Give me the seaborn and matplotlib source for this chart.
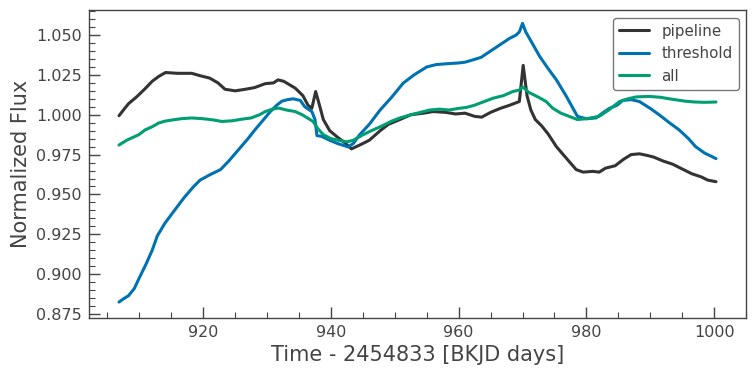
import numpy as np
import pandas as pd
import matplotlib
matplotlib.use("Agg")
import matplotlib.pyplot as plt
from matplotlib.ticker import MultipleLocator, FormatStrFormatter
import seaborn as sns

# light curves (time in BKJD days, normalized flux)
pipeline_t = [906.8, 907.5, 908.3, 909.5, 910.8, 912.0, 913.0, 914.1, 916.0, 918.2,
              919.5, 921.0, 922.3, 923.4, 925.0, 926.6, 928.0, 929.7, 931.0, 931.7,
              932.6, 934.4, 935.6, 936.4, 937.0, 937.6, 938.2, 938.8, 939.8, 941.0,
              942.3, 943.2, 944.5, 946.0, 947.7, 949.0, 950.8, 952.5, 954.5, 956.0,
              958.0, 959.5, 961.0, 962.5, 963.6, 965.0, 966.5, 968.0, 969.5, 970.1,
              970.7, 971.3, 972.0, 973.0, 974.0, 975.3, 976.8, 978.4, 979.5, 981.0,
              982.0, 983.0, 984.5, 985.8, 987.0, 988.3, 989.5, 990.5, 992.0, 993.5,
              995.0, 996.5, 998.0, 999.0, 1000.3]
pipeline_f = [0.9994, 1.003, 1.007, 1.011, 1.016, 1.021, 1.024, 1.0265, 1.026, 1.026,
              1.0245, 1.023, 1.020, 1.016, 1.015, 1.016, 1.017, 1.0195, 1.020, 1.0219,
              1.021, 1.0167, 1.012, 1.006, 1.004, 1.0146, 1.006, 0.997, 0.990, 0.986,
              0.982, 0.9786, 0.981, 0.984, 0.990, 0.994, 0.997, 1.000, 1.001, 1.002,
              1.0015, 1.0005, 1.001, 0.999, 0.9985, 1.0015, 1.004, 1.006, 1.0083, 1.031,
              1.012, 1.003, 0.997, 0.993, 0.988, 0.980, 0.973, 0.9656, 0.964, 0.9645,
              0.964, 0.9665, 0.968, 0.972, 0.975, 0.9755, 0.9745, 0.9735, 0.971, 0.969,
              0.966, 0.963, 0.961, 0.959, 0.958]

threshold_t = [906.8, 907.5, 908.3, 909.2, 909.9, 911.0, 912.0, 912.8, 914.0, 915.6,
               917.0, 918.5, 919.5, 921.1, 922.7, 924.0, 925.5, 927.0, 928.1, 929.2,
               930.5, 931.5, 932.3, 933.2, 934.1, 935.2, 935.9, 937.0, 937.5, 937.8,
               938.5, 939.8, 941.0, 942.7, 943.5, 944.5, 946.0, 947.7, 949.5, 951.3,
               953.0, 955.0, 956.5, 958.1, 960.0, 961.0, 962.2, 963.5, 965.0, 966.5,
               968.0, 969.0, 969.5, 970.0, 970.5, 971.5, 972.7, 974.0, 975.3, 976.8,
               978.6, 980.0, 981.5, 982.5, 983.6, 984.8, 985.7, 987.0, 988.3, 990.0,
               991.4, 993.0, 994.5, 996.0, 997.1, 998.5, 1000.3]
threshold_f = [0.8825, 0.8845, 0.8865, 0.891, 0.897, 0.906, 0.915, 0.924, 0.932, 0.9406,
               0.948, 0.955, 0.959, 0.9625, 0.9656, 0.971, 0.978, 0.985, 0.9906, 0.9958,
               1.002, 1.006, 1.0085, 1.0095, 1.010, 1.009, 1.005, 1.002, 0.997, 0.9869,
               0.9865, 0.984, 0.982, 0.9798, 0.982, 0.9875, 0.994, 1.003, 1.011, 1.0198,
               1.025, 1.030, 1.0315, 1.032, 1.0325, 1.033, 1.0344, 1.036, 1.040, 1.044,
               1.048, 1.050, 1.052, 1.0573, 1.052, 1.045, 1.0365, 1.029, 1.0219, 1.012,
               0.999, 0.9975, 0.998, 1.001, 1.004, 1.006, 1.009, 1.0095, 1.0083, 1.004,
               1.000, 0.995, 0.9906, 0.985, 0.980, 0.976, 0.9725]

all_t = [906.8, 908.0, 909.9, 910.9, 912.0, 913.0, 914.0, 915.1, 916.5, 918.2,
         920.0, 921.5, 922.9, 924.5, 926.0, 927.5, 928.8, 929.7, 930.8, 931.8,
         933.0, 934.4, 935.5, 936.3, 937.2, 938.0, 938.8, 940.0, 941.2, 942.5,
         943.5, 944.8, 946.1, 948.0, 949.5, 950.8, 952.5, 954.0, 955.5, 957.0,
         958.5, 960.0, 961.2, 962.5, 963.8, 965.4, 967.0, 968.5, 969.5, 970.0,
         971.0, 972.5, 973.7, 974.7, 976.0, 977.3, 978.6, 980.0, 982.0, 983.5,
         985.2, 986.5, 987.8, 989.8, 991.5, 993.0, 994.0, 995.5, 997.0, 998.5, 1000.3]
all_f = [0.981, 0.984, 0.9875, 0.9905, 0.9925, 0.9948, 0.996, 0.9967, 0.9975, 0.998,
         0.9975, 0.9968, 0.9958, 0.9962, 0.9972, 0.998, 1.000, 1.002, 1.0035, 1.0042,
         1.003, 1.002, 1.000, 0.998, 0.9958, 0.991, 0.9875, 0.985, 0.984, 0.983,
         0.984, 0.987, 0.9896, 0.993, 0.996, 0.998, 1.000, 1.0015, 1.003, 1.0035,
         1.003, 1.004, 1.0046, 1.006, 1.008, 1.0104, 1.012, 1.0146, 1.0155, 1.0175,
         1.014, 1.011, 1.0083, 1.0042, 1.001, 0.999, 0.997, 0.9975, 0.999, 1.003,
         1.0083, 1.010, 1.0112, 1.0115, 1.011, 1.010, 1.0094, 1.0085, 1.008, 1.0078, 1.008]

labels = ["pipeline", "threshold", "all"]
colors = ["#333333", "#0072B2", "#009E73"]

df = pd.concat([
    pd.DataFrame({"time": pipeline_t, "flux": pipeline_f, "mask": "pipeline"}),
    pd.DataFrame({"time": threshold_t, "flux": threshold_f, "mask": "threshold"}),
    pd.DataFrame({"time": all_t, "flux": all_f, "mask": "all"}),
], ignore_index=True)

sns.set_style("white")
plt.rcParams["font.family"] = ["DejaVu Sans"]
grey = "#444444"

fig = plt.figure(figsize=(7.56, 3.76), dpi=100)
ax = fig.add_axes([0.1177, 0.1543, 0.8691, 0.819])
sns.lineplot(data=df, x="time", y="flux", hue="mask", hue_order=labels,
             palette=dict(zip(labels, colors)), sort=False, estimator=None,
             linewidth=2.2, ax=ax)

ax.set_xlim(902.1, 1005.0)
ax.set_ylim(0.8725, 1.0657)
ax.xaxis.set_major_locator(MultipleLocator(20))
ax.xaxis.set_minor_locator(MultipleLocator(5))
ax.yaxis.set_major_locator(MultipleLocator(0.025))
ax.yaxis.set_minor_locator(MultipleLocator(0.005))
ax.yaxis.set_major_formatter(FormatStrFormatter("%.3f"))
ax.tick_params(which="both", bottom=True, left=True, top=False, right=False)
ax.tick_params(which="major", direction="in", length=8, width=1, color=grey,
               labelcolor=grey, labelsize=11.5, pad=5)
ax.tick_params(which="minor", direction="in", length=4.5, width=0.8, color=grey)
for sp in ax.spines.values():
    sp.set_color(grey)
    sp.set_linewidth(1)

ax.set_xlabel("Time - 2454833 [BKJD days]", fontsize=15, color=grey, labelpad=4)
ax.set_ylabel("Normalized Flux", fontsize=15, color=grey, labelpad=4)

leg = ax.legend(loc="upper right", fontsize=10.8, frameon=True, fancybox=True,
                handlelength=2.0)
leg.get_frame().set_edgecolor("#555555")
leg.get_frame().set_linewidth(1)
for t in leg.get_texts():
    t.set_color(grey)

fig.savefig("out.png", dpi=100)
